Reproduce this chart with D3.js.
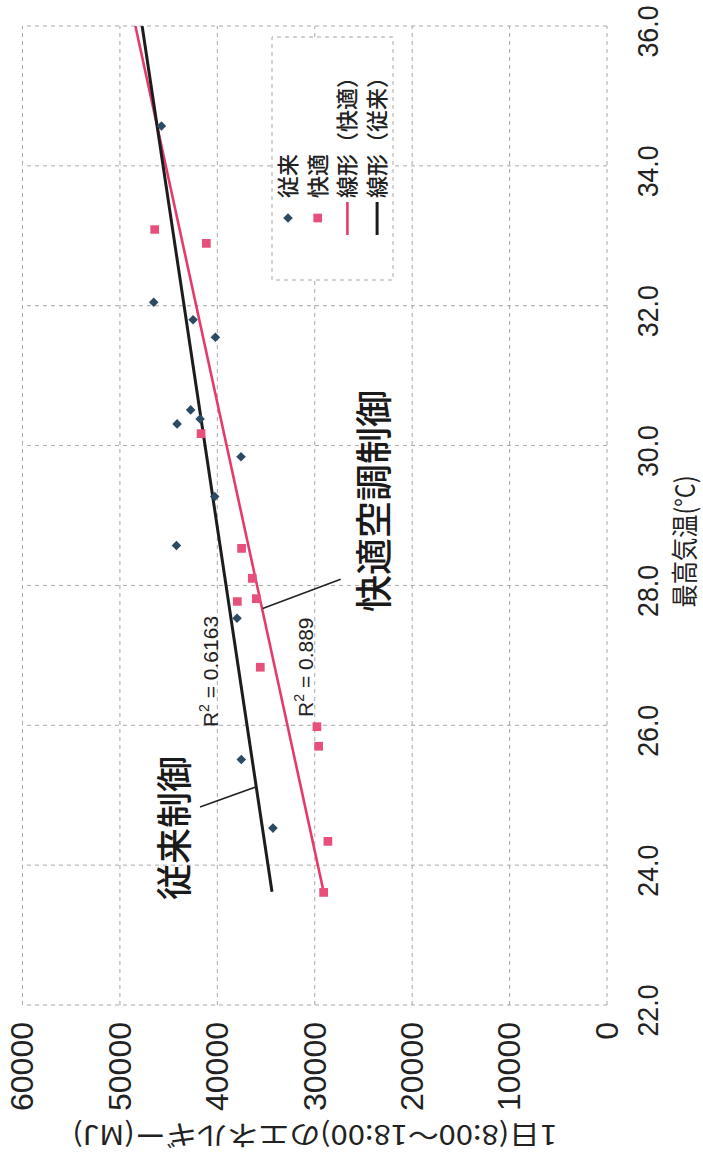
<!DOCTYPE html>
<html><head><meta charset="utf-8">
<script src="https://cdn.jsdelivr.net/npm/d3@7"></script>
<style>html,body{margin:0;padding:0;background:#fff;} svg{display:block;}</style>
</head><body>
<svg id="chart" width="703" height="1159"></svg>
<script>
// ---------------- data ----------------
const tempTicks = [22, 24, 26, 28, 30, 32, 34, 36];
const energyTicks = [0, 10000, 20000, 30000, 40000, 50000, 60000];

// 従来 (conventional control)
const juraiTemp   = [34.57, 32.05, 31.80, 31.55, 30.51, 30.31, 30.38, 29.84, 29.27, 28.57, 27.53, 25.51, 24.53];
const juraiEnergy = [45740, 46530, 42490, 40200, 42740, 44130, 41770, 37570, 40270, 44200, 37980, 37540, 34290];

// 快適 (comfort air-conditioning control)
const kaitekiTemp   = [33.09, 32.89, 30.17, 28.53, 28.10, 27.81, 27.77, 26.83, 25.98, 25.70, 24.34, 23.61];
const kaitekiEnergy = [46430, 41130, 41670, 37510, 36410, 36000, 37950, 35590, 29780, 29600, 28650, 29090];

// linear trend lines as drawn (end points)
const trendJuraiTemp     = [23.62, 36.0];
const trendJuraiEnergy   = [34390, 47720];
const trendKaitekiTemp   = [23.62, 36.0];
const trendKaitekiEnergy = [29090, 48410];

const legendLabels = ["従来", "快適", "線形（快適）", "線形（従来）"];
const r2Values = ["0.6163", "0.889"];
const annotationLabels = ["従来制御", "快適空調制御"];
const xTitle = "最高気温(°C)";
const yTitle = "1日(8:00～18:00)のエネルギー(MJ)";

// ---------------- layout ----------------
const W = 1159, H = 703;               // chart drawn in landscape, then rotated
const colDia = "#2c4a61", colSq = "#e8507c", colPinkLine = "#e33b6b", colBlackLine = "#1c1c1c";
const gridCol = "#a8a8a8";
const cjk = "'Noto Sans CJK JP', 'Noto Sans', sans-serif";
const latin = "'Liberation Sans', Arial, sans-serif";

const svg = d3.select("#chart");
svg.append("rect").attr("width", 703).attr("height", 1159).attr("fill", "#fff");
const g = svg.append("g").attr("transform", `translate(0,${W}) rotate(-90)`);

const x = d3.scaleLinear().domain([22, 36]).range([154, 1133]);
const y = d3.scaleLinear().domain([0, 60000]).range([607, 22.5]);

// grid
g.append("g").selectAll("line").data(tempTicks).join("line")
  .attr("x1", d => x(d)).attr("x2", d => x(d))
  .attr("y1", y(0)).attr("y2", y(60000))
  .attr("stroke", gridCol).attr("stroke-width", 1).attr("stroke-dasharray", "4,4");
g.append("g").selectAll("line").data(energyTicks).join("line")
  .attr("x1", x(22)).attr("x2", x(36))
  .attr("y1", d => y(d)).attr("y2", d => y(d))
  .attr("stroke", gridCol).attr("stroke-width", 1).attr("stroke-dasharray", "4,4");

// clip
g.append("clipPath").attr("id", "plotclip").append("rect")
  .attr("x", x(22)).attr("y", y(60000)).attr("width", x(36) - x(22)).attr("height", y(0) - y(60000));

// axes labels
const xAxis = g.append("g").attr("transform", `translate(0,${y(0)})`)
  .call(d3.axisBottom(x).tickValues(tempTicks).tickFormat(d3.format(".1f")).tickSize(0).tickPadding(30));
xAxis.select(".domain").remove();
xAxis.selectAll("text").attr("font-family", latin).attr("font-size", 30).attr("fill", "#222")
  .attr("dx", -6).attr("textLength", 52).attr("lengthAdjust", "spacingAndGlyphs");

const yAxis = g.append("g").attr("transform", `translate(${x(22)},0)`)
  .call(d3.axisLeft(y).tickValues(energyTicks).tickFormat(d3.format("d")).tickSize(0).tickPadding(17));
yAxis.select(".domain").remove();
yAxis.selectAll("text").attr("font-family", latin).attr("font-size", 32).attr("fill", "#222");

// axis titles
g.append("text").attr("transform", `translate(${(x(22)+x(36))/2 - 26},695)`)
  .attr("text-anchor", "middle").attr("font-family", cjk).attr("font-size", 27).attr("fill", "#222")
  .attr("textLength", 132).attr("lengthAdjust", "spacingAndGlyphs")
  .text(xTitle);
g.append("text").attr("transform", `translate(34,${(y(0)+y(60000))/2}) rotate(-90)`)
  .attr("text-anchor", "middle").attr("font-family", cjk).attr("font-size", 27).attr("fill", "#222")
  .attr("textLength", 485).attr("lengthAdjust", "spacingAndGlyphs")
  .text(yTitle);

// trend lines
const line = d3.line().x(d => x(d[0])).y(d => y(d[1]));
const plot = g.append("g").attr("clip-path", "url(#plotclip)");
plot.append("path").datum(d3.zip(trendKaitekiTemp, trendKaitekiEnergy))
  .attr("d", line).attr("fill", "none").attr("stroke", colPinkLine).attr("stroke-width", 2.6);
plot.append("path").datum(d3.zip(trendJuraiTemp, trendJuraiEnergy))
  .attr("d", line).attr("fill", "none").attr("stroke", colBlackLine).attr("stroke-width", 3);

// markers
const diamond = d3.symbol().type(d3.symbolSquare).size(46);
const square = d3.symbol().type(d3.symbolSquare).size(76);
plot.append("g").selectAll("path").data(d3.zip(kaitekiTemp, kaitekiEnergy)).join("path")
  .attr("transform", d => `translate(${x(d[0])},${y(d[1])})`)
  .attr("d", square).attr("fill", colSq);
plot.append("g").selectAll("path").data(d3.zip(juraiTemp, juraiEnergy)).join("path")
  .attr("transform", d => `translate(${x(d[0])},${y(d[1])}) rotate(45)`)
  .attr("d", diamond).attr("fill", colDia);

// R² labels
const r2Pos = [[25.975, 39930], [26.12, 30180]];
r2Values.forEach((v, i) => {
  const t = g.append("text").attr("x", x(r2Pos[i][0])).attr("y", y(r2Pos[i][1]))
    .attr("font-family", latin).attr("font-size", 21).attr("fill", "#222");
  t.append("tspan").text("R");
  t.append("tspan").attr("font-size", 14).attr("dy", -9).text("2");
  t.append("tspan").attr("dy", 9).text(" = " + v);
});

// annotations with leader lines
const annPos = [[23.50, 42970, 36], [27.62, 22480, 37]];
annotationLabels.forEach((s, i) => {
  g.append("text").attr("x", x(annPos[i][0])).attr("y", y(annPos[i][1]))
    .attr("font-family", cjk).attr("font-weight", 500).attr("font-size", annPos[i][2]).attr("fill", "#1a1a1a")
    .text(s);
});
const leaders = [[[24.83, 41780], [25.12, 36000]], [[28.09, 27340], [27.67, 35350]]];
g.append("g").selectAll("path").data(leaders).join("path")
  .attr("d", line).attr("fill", "none").attr("stroke", "#222").attr("stroke-width", 1.6);

// legend
const lg = g.append("g");
lg.append("rect").attr("x", 879).attr("y", 272).attr("width", 243).attr("height", 121)
  .attr("fill", "#fff").attr("stroke", gridCol).attr("stroke-width", 1).attr("stroke-dasharray", "4,4");
const rowY = i => 288 + i * 29.7;
lg.append("path").attr("transform", `translate(941,${rowY(0)}) rotate(45)`).attr("d", diamond).attr("fill", colDia);
lg.append("path").attr("transform", `translate(941,${rowY(1)})`).attr("d", square).attr("fill", colSq);
lg.append("line").attr("x1", 924).attr("x2", 957).attr("y1", rowY(2)).attr("y2", rowY(2))
  .attr("stroke", colPinkLine).attr("stroke-width", 2.6);
lg.append("line").attr("x1", 924).attr("x2", 957).attr("y1", rowY(3)).attr("y2", rowY(3))
  .attr("stroke", colBlackLine).attr("stroke-width", 3);
lg.selectAll("text").data(legendLabels).join("text")
  .attr("x", 961).attr("y", (d, i) => rowY(i)).attr("dy", "0.36em")
  .attr("font-family", cjk).attr("font-weight", 500).attr("font-size", 22).attr("fill", "#222")
  .text(d => d);
</script>
</body></html>
